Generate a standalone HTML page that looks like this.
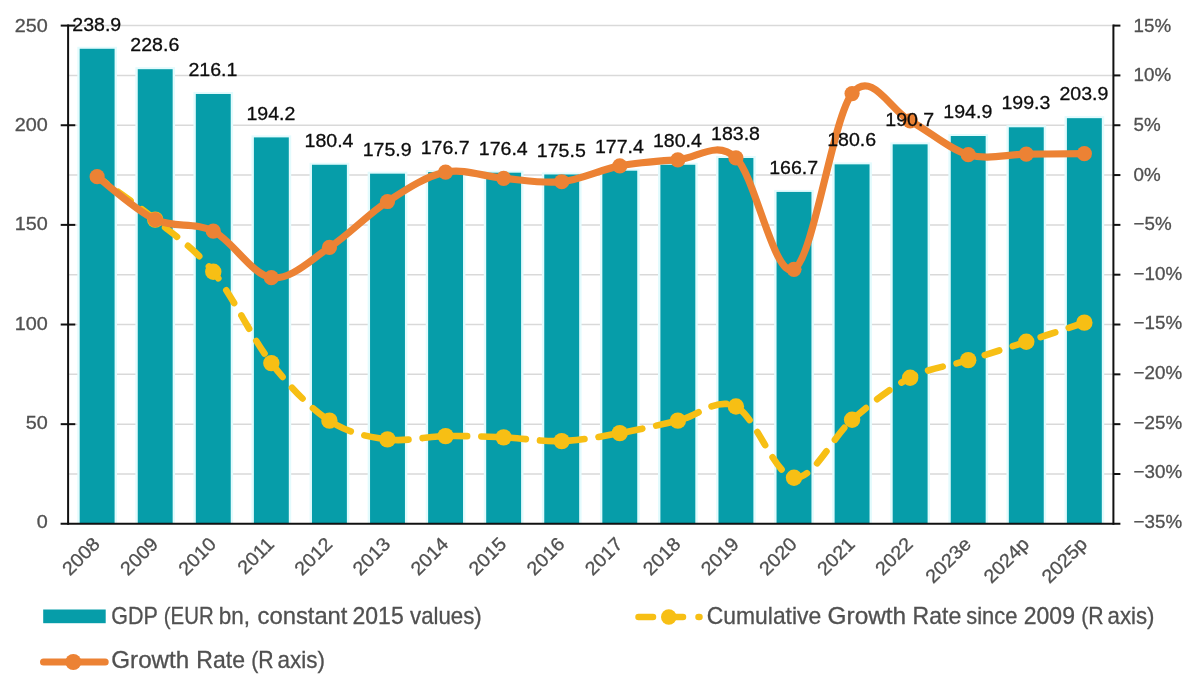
<!DOCTYPE html>
<html lang="en"><head><meta charset="utf-8"><title>GDP chart</title>
<style>html,body{margin:0;padding:0;background:#fff}body{width:1200px;height:685px;overflow:hidden}svg{display:block;filter:blur(0.45px)}</style></head>
<body>
<svg width="1200" height="685" viewBox="0 0 1200 685" font-family='"Liberation Sans", Arial, sans-serif'>
<rect width="1200" height="685" fill="#fff"/>
<line x1="68.1" x2="1113.4" y1="25.60" y2="25.60" stroke="#d9d9d9" stroke-width="1.5"/>
<line x1="68.1" x2="1113.4" y1="75.42" y2="75.42" stroke="#d9d9d9" stroke-width="1.5"/>
<line x1="68.1" x2="1113.4" y1="125.24" y2="125.24" stroke="#d9d9d9" stroke-width="1.5"/>
<line x1="68.1" x2="1113.4" y1="175.06" y2="175.06" stroke="#d9d9d9" stroke-width="1.5"/>
<line x1="68.1" x2="1113.4" y1="224.88" y2="224.88" stroke="#d9d9d9" stroke-width="1.5"/>
<line x1="68.1" x2="1113.4" y1="274.70" y2="274.70" stroke="#d9d9d9" stroke-width="1.5"/>
<line x1="68.1" x2="1113.4" y1="324.52" y2="324.52" stroke="#d9d9d9" stroke-width="1.5"/>
<line x1="68.1" x2="1113.4" y1="374.34" y2="374.34" stroke="#d9d9d9" stroke-width="1.5"/>
<line x1="68.1" x2="1113.4" y1="424.16" y2="424.16" stroke="#d9d9d9" stroke-width="1.5"/>
<line x1="68.1" x2="1113.4" y1="473.98" y2="473.98" stroke="#d9d9d9" stroke-width="1.5"/>
<rect x="77.29" y="46.78" width="39.70" height="477.02" fill="#e3fbfd"/>
<rect x="79.69" y="48.78" width="34.9" height="475.02" fill="#069da9"/>
<rect x="135.36" y="67.20" width="39.70" height="456.60" fill="#e3fbfd"/>
<rect x="137.76" y="69.20" width="34.9" height="454.60" fill="#069da9"/>
<rect x="193.43" y="91.98" width="39.70" height="431.82" fill="#e3fbfd"/>
<rect x="195.83" y="93.98" width="34.9" height="429.82" fill="#069da9"/>
<rect x="251.50" y="135.40" width="39.70" height="388.40" fill="#e3fbfd"/>
<rect x="253.90" y="137.40" width="34.9" height="386.40" fill="#069da9"/>
<rect x="309.58" y="162.76" width="39.70" height="361.04" fill="#e3fbfd"/>
<rect x="311.98" y="164.76" width="34.9" height="359.04" fill="#069da9"/>
<rect x="367.65" y="171.68" width="39.70" height="352.12" fill="#e3fbfd"/>
<rect x="370.05" y="173.68" width="34.9" height="350.12" fill="#069da9"/>
<rect x="425.72" y="170.09" width="39.70" height="353.71" fill="#e3fbfd"/>
<rect x="428.12" y="172.09" width="34.9" height="351.71" fill="#069da9"/>
<rect x="483.79" y="170.69" width="39.70" height="353.11" fill="#e3fbfd"/>
<rect x="486.19" y="172.69" width="34.9" height="351.11" fill="#069da9"/>
<rect x="541.86" y="172.47" width="39.70" height="351.33" fill="#e3fbfd"/>
<rect x="544.26" y="174.47" width="34.9" height="349.33" fill="#069da9"/>
<rect x="599.94" y="168.70" width="39.70" height="355.10" fill="#e3fbfd"/>
<rect x="602.34" y="170.70" width="34.9" height="353.10" fill="#069da9"/>
<rect x="658.01" y="162.76" width="39.70" height="361.04" fill="#e3fbfd"/>
<rect x="660.41" y="164.76" width="34.9" height="359.04" fill="#069da9"/>
<rect x="716.08" y="156.02" width="39.70" height="367.78" fill="#e3fbfd"/>
<rect x="718.48" y="158.02" width="34.9" height="365.78" fill="#069da9"/>
<rect x="774.15" y="189.92" width="39.70" height="333.88" fill="#e3fbfd"/>
<rect x="776.55" y="191.92" width="34.9" height="331.88" fill="#069da9"/>
<rect x="832.23" y="162.36" width="39.70" height="361.44" fill="#e3fbfd"/>
<rect x="834.63" y="164.36" width="34.9" height="359.44" fill="#069da9"/>
<rect x="890.30" y="142.34" width="39.70" height="381.46" fill="#e3fbfd"/>
<rect x="892.70" y="144.34" width="34.9" height="379.46" fill="#069da9"/>
<rect x="948.37" y="134.01" width="39.70" height="389.79" fill="#e3fbfd"/>
<rect x="950.77" y="136.01" width="34.9" height="387.79" fill="#069da9"/>
<rect x="1006.44" y="125.29" width="39.70" height="398.51" fill="#e3fbfd"/>
<rect x="1008.84" y="127.29" width="34.9" height="396.51" fill="#069da9"/>
<rect x="1064.51" y="116.17" width="39.70" height="407.63" fill="#e3fbfd"/>
<rect x="1066.91" y="118.17" width="34.9" height="405.63" fill="#069da9"/>
<g stroke="#111" stroke-width="2" fill="none">
<line x1="68.1" x2="68.1" y1="24.6" y2="524.8"/>
<line x1="1113.4" x2="1113.4" y1="24.6" y2="524.8"/>
<line x1="60.599999999999994" x2="1120.4" y1="523.8" y2="523.8"/>
<line x1="60.699999999999996" x2="75.3" y1="25.60" y2="25.60"/>
<line x1="60.699999999999996" x2="75.3" y1="125.24" y2="125.24"/>
<line x1="60.699999999999996" x2="75.3" y1="224.88" y2="224.88"/>
<line x1="60.699999999999996" x2="75.3" y1="324.52" y2="324.52"/>
<line x1="60.699999999999996" x2="75.3" y1="424.16" y2="424.16"/>
<line x1="1113.4" x2="1120.4" y1="25.60" y2="25.60"/>
<line x1="1113.4" x2="1120.4" y1="75.42" y2="75.42"/>
<line x1="1113.4" x2="1120.4" y1="125.24" y2="125.24"/>
<line x1="1113.4" x2="1120.4" y1="175.06" y2="175.06"/>
<line x1="1113.4" x2="1120.4" y1="224.88" y2="224.88"/>
<line x1="1113.4" x2="1120.4" y1="274.70" y2="274.70"/>
<line x1="1113.4" x2="1120.4" y1="324.52" y2="324.52"/>
<line x1="1113.4" x2="1120.4" y1="374.34" y2="374.34"/>
<line x1="1113.4" x2="1120.4" y1="424.16" y2="424.16"/>
<line x1="1113.4" x2="1120.4" y1="473.98" y2="473.98"/>
</g>
<path d="M97.14,176.66 C106.81,183.82 135.85,203.77 155.21,219.62 C174.57,235.47 193.92,247.84 213.28,271.75 C232.64,295.67 252.00,338.28 271.35,363.09 C290.71,387.91 310.07,407.93 329.43,420.65 C348.78,433.37 368.14,436.85 387.50,439.42 C406.85,441.99 426.21,436.43 445.57,436.08 C464.93,435.74 484.28,436.50 503.64,437.33 C523.00,438.17 542.36,441.78 561.71,441.09 C581.07,440.39 600.43,436.57 619.79,433.16 C639.14,429.76 658.50,425.10 677.86,420.65 C697.22,416.20 716.57,396.95 735.93,406.47 C755.29,415.99 774.65,475.57 794.00,477.79 C813.36,480.01 832.72,436.50 852.08,419.82 C871.43,403.13 890.79,387.63 910.15,377.69 C929.50,367.75 948.86,366.15 968.22,360.17 C987.58,354.20 1006.93,348.08 1026.29,341.82 C1045.65,335.57 1074.69,325.83 1084.36,322.64" fill="none" stroke="#f7bf14" stroke-width="6.6" stroke-linecap="round" stroke-dasharray="15.2 14.2" stroke-dashoffset="3.3"/>
<circle cx="155.21" cy="219.62" r="8.2" fill="#f7bf14"/>
<circle cx="213.28" cy="271.75" r="8.2" fill="#f7bf14"/>
<circle cx="271.35" cy="363.09" r="8.2" fill="#f7bf14"/>
<circle cx="329.43" cy="420.65" r="8.2" fill="#f7bf14"/>
<circle cx="387.50" cy="439.42" r="8.2" fill="#f7bf14"/>
<circle cx="445.57" cy="436.08" r="8.2" fill="#f7bf14"/>
<circle cx="503.64" cy="437.33" r="8.2" fill="#f7bf14"/>
<circle cx="561.71" cy="441.09" r="8.2" fill="#f7bf14"/>
<circle cx="619.79" cy="433.16" r="8.2" fill="#f7bf14"/>
<circle cx="677.86" cy="420.65" r="8.2" fill="#f7bf14"/>
<circle cx="735.93" cy="406.47" r="8.2" fill="#f7bf14"/>
<circle cx="794.00" cy="477.79" r="8.2" fill="#f7bf14"/>
<circle cx="852.08" cy="419.82" r="8.2" fill="#f7bf14"/>
<circle cx="910.15" cy="377.69" r="8.2" fill="#f7bf14"/>
<circle cx="968.22" cy="360.17" r="8.2" fill="#f7bf14"/>
<circle cx="1026.29" cy="341.82" r="8.2" fill="#f7bf14"/>
<circle cx="1084.36" cy="322.64" r="8.2" fill="#f7bf14"/>
<path d="M97.14,176.66 C106.81,183.82 135.85,210.54 155.21,219.62 C174.57,228.70 193.92,221.47 213.28,231.14 C232.64,240.81 252.00,274.92 271.35,277.64 C290.71,280.36 310.07,260.15 329.43,247.46 C348.78,234.78 368.14,214.07 387.50,201.51 C406.85,188.96 426.21,175.99 445.57,172.13 C464.93,168.27 484.28,176.75 503.64,178.35 C523.00,179.95 542.36,183.82 561.71,181.74 C581.07,179.66 600.43,169.53 619.79,165.87 C639.14,162.22 658.50,161.14 677.86,159.81 C697.22,158.48 716.57,139.62 735.93,157.88 C755.29,176.14 774.65,280.08 794.00,269.36 C813.36,258.64 832.72,118.31 852.08,93.58 C871.43,68.84 890.79,110.75 910.15,120.94 C929.50,131.13 948.86,149.18 968.22,154.72 C987.58,160.25 1006.93,154.34 1026.29,154.17 C1045.65,153.99 1074.69,153.75 1084.36,153.66" fill="none" stroke="#ec8234" stroke-width="7.2" stroke-linecap="round" stroke-linejoin="round"/>
<circle cx="97.14" cy="176.66" r="7.6" fill="#ec8234"/>
<circle cx="155.21" cy="219.62" r="7.6" fill="#ec8234"/>
<circle cx="213.28" cy="231.14" r="7.6" fill="#ec8234"/>
<circle cx="271.35" cy="277.64" r="7.6" fill="#ec8234"/>
<circle cx="329.43" cy="247.46" r="7.6" fill="#ec8234"/>
<circle cx="387.50" cy="201.51" r="7.6" fill="#ec8234"/>
<circle cx="445.57" cy="172.13" r="7.6" fill="#ec8234"/>
<circle cx="503.64" cy="178.35" r="7.6" fill="#ec8234"/>
<circle cx="561.71" cy="181.74" r="7.6" fill="#ec8234"/>
<circle cx="619.79" cy="165.87" r="7.6" fill="#ec8234"/>
<circle cx="677.86" cy="159.81" r="7.6" fill="#ec8234"/>
<circle cx="735.93" cy="157.88" r="7.6" fill="#ec8234"/>
<circle cx="794.00" cy="269.36" r="7.6" fill="#ec8234"/>
<circle cx="852.08" cy="93.58" r="7.6" fill="#ec8234"/>
<circle cx="910.15" cy="120.94" r="7.6" fill="#ec8234"/>
<circle cx="968.22" cy="154.72" r="7.6" fill="#ec8234"/>
<circle cx="1026.29" cy="154.17" r="7.6" fill="#ec8234"/>
<circle cx="1084.36" cy="153.66" r="7.6" fill="#ec8234"/>
<g font-size="18.8" fill="#0d0d0d" stroke="#0d0d0d" stroke-width="0.3" text-anchor="middle">
<text transform="translate(96.74,30.88) scale(1.041,1)">238.9</text>
<text transform="translate(154.81,51.30) scale(1.041,1)">228.6</text>
<text transform="translate(212.88,76.08) scale(1.041,1)">216.1</text>
<text transform="translate(270.95,119.50) scale(1.041,1)">194.2</text>
<text transform="translate(329.03,146.86) scale(1.041,1)">180.4</text>
<text transform="translate(387.10,155.78) scale(1.041,1)">175.9</text>
<text transform="translate(445.17,154.19) scale(1.041,1)">176.7</text>
<text transform="translate(503.24,154.79) scale(1.041,1)">176.4</text>
<text transform="translate(561.31,156.57) scale(1.041,1)">175.5</text>
<text transform="translate(619.39,152.80) scale(1.041,1)">177.4</text>
<text transform="translate(677.46,146.86) scale(1.041,1)">180.4</text>
<text transform="translate(735.53,140.12) scale(1.041,1)">183.8</text>
<text transform="translate(793.60,174.02) scale(1.041,1)">166.7</text>
<text transform="translate(851.68,146.46) scale(1.041,1)">180.6</text>
<text transform="translate(909.75,126.44) scale(1.041,1)">190.7</text>
<text transform="translate(967.82,118.11) scale(1.041,1)">194.9</text>
<text transform="translate(1025.89,109.39) scale(1.041,1)">199.3</text>
<text transform="translate(1083.96,100.27) scale(1.041,1)">203.9</text>
</g>
<g font-size="18.5" fill="#505050" stroke="#505050" stroke-width="0.3" text-anchor="end">
<text transform="translate(47.8,31.90) scale(1.07,1)">250</text>
<text transform="translate(47.8,131.10) scale(1.07,1)">200</text>
<text transform="translate(47.8,230.30) scale(1.07,1)">150</text>
<text transform="translate(47.8,329.50) scale(1.07,1)">100</text>
<text transform="translate(47.8,428.70) scale(1.07,1)">50</text>
<text transform="translate(47.8,527.90) scale(1.07,1)">0</text>
</g>
<g font-size="18.5" fill="#505050" stroke="#505050" stroke-width="0.3" text-anchor="start">
<text transform="translate(1133.6,31.80) scale(1.015,1)">15%</text>
<text transform="translate(1133.6,81.40) scale(1.015,1)">10%</text>
<text transform="translate(1133.6,131.00) scale(1.015,1)">5%</text>
<text transform="translate(1133.6,180.60) scale(1.015,1)">0%</text>
<text transform="translate(1133.6,230.20) scale(1.015,1)">−5%</text>
<text transform="translate(1133.6,279.80) scale(1.015,1)">−10%</text>
<text transform="translate(1133.6,329.40) scale(1.015,1)">−15%</text>
<text transform="translate(1133.6,379.00) scale(1.015,1)">−20%</text>
<text transform="translate(1133.6,428.60) scale(1.015,1)">−25%</text>
<text transform="translate(1133.6,478.20) scale(1.015,1)">−30%</text>
<text transform="translate(1133.6,527.80) scale(1.015,1)">−35%</text>
</g>
<g font-size="18.5" fill="#505050" stroke="#505050" stroke-width="0.3" text-anchor="end">
<text transform="translate(101.14,545.30) rotate(-45) scale(1.07,1.03)">2008</text>
<text transform="translate(159.21,545.30) rotate(-45) scale(1.07,1.03)">2009</text>
<text transform="translate(217.28,545.30) rotate(-45) scale(1.07,1.03)">2010</text>
<text transform="translate(275.35,545.30) rotate(-45) scale(1.07,1.03)">2011</text>
<text transform="translate(333.43,545.30) rotate(-45) scale(1.07,1.03)">2012</text>
<text transform="translate(391.50,545.30) rotate(-45) scale(1.07,1.03)">2013</text>
<text transform="translate(449.57,545.30) rotate(-45) scale(1.07,1.03)">2014</text>
<text transform="translate(507.64,545.30) rotate(-45) scale(1.07,1.03)">2015</text>
<text transform="translate(565.71,545.30) rotate(-45) scale(1.07,1.03)">2016</text>
<text transform="translate(623.79,545.30) rotate(-45) scale(1.07,1.03)">2017</text>
<text transform="translate(681.86,545.30) rotate(-45) scale(1.07,1.03)">2018</text>
<text transform="translate(739.93,545.30) rotate(-45) scale(1.07,1.03)">2019</text>
<text transform="translate(798.00,545.30) rotate(-45) scale(1.07,1.03)">2020</text>
<text transform="translate(856.08,545.30) rotate(-45) scale(1.07,1.03)">2021</text>
<text transform="translate(914.15,545.30) rotate(-45) scale(1.07,1.03)">2022</text>
<text transform="translate(972.22,545.30) rotate(-45) scale(1.07,1.03)">2023e</text>
<text transform="translate(1030.29,545.30) rotate(-45) scale(1.07,1.03)">2024p</text>
<text transform="translate(1088.36,545.30) rotate(-45) scale(1.07,1.03)">2025p</text>
</g>
<rect x="43.2" y="609.5" width="62.5" height="13.7" fill="#069da9"/>
<g font-size="23.2" fill="#505050" stroke="#505050" stroke-width="0.3">
<text y="623.8"><tspan x="111.30" textLength="46.15" lengthAdjust="spacingAndGlyphs">GDP</tspan> <tspan x="163.80" textLength="49.90" lengthAdjust="spacingAndGlyphs">(EUR</tspan> <tspan x="218.80" textLength="31.15" lengthAdjust="spacingAndGlyphs">bn,</tspan> <tspan x="257.55" textLength="89.90" lengthAdjust="spacingAndGlyphs">constant</tspan> <tspan x="352.55" textLength="51.15" lengthAdjust="spacingAndGlyphs">2015</tspan> <tspan x="410.05" textLength="71.65" lengthAdjust="spacingAndGlyphs">values)</tspan></text>
<text y="623.8"><tspan x="706.80" textLength="114.40" lengthAdjust="spacingAndGlyphs">Cumulative</tspan> <tspan x="827.55" textLength="78.65" lengthAdjust="spacingAndGlyphs">Growth</tspan> <tspan x="912.55" textLength="48.65" lengthAdjust="spacingAndGlyphs">Rate</tspan> <tspan x="966.30" textLength="51.15" lengthAdjust="spacingAndGlyphs">since</tspan> <tspan x="1023.80" textLength="51.15" lengthAdjust="spacingAndGlyphs">2009</tspan> <tspan x="1081.30" textLength="22.40" lengthAdjust="spacingAndGlyphs">(R</tspan> <tspan x="1107.55" textLength="46.90" lengthAdjust="spacingAndGlyphs">axis)</tspan></text>
<text y="668"><tspan x="111.30" textLength="77.90" lengthAdjust="spacingAndGlyphs">Growth</tspan> <tspan x="196.30" textLength="48.65" lengthAdjust="spacingAndGlyphs">Rate</tspan> <tspan x="251.30" textLength="22.40" lengthAdjust="spacingAndGlyphs">(R</tspan> <tspan x="277.55" textLength="47.40" lengthAdjust="spacingAndGlyphs">axis)</tspan></text>
</g>
<line x1="43.5" x2="105.2" y1="662" y2="662" stroke="#ec8234" stroke-width="7" stroke-linecap="round"/>
<circle cx="73.3" cy="662" r="8" fill="#ec8234"/>
<line x1="638.5" x2="699.5" y1="617" y2="617" stroke="#f7bf14" stroke-width="6.5" stroke-linecap="round" stroke-dasharray="14.5 15.5"/>
<circle cx="668.8" cy="617" r="7.8" fill="#f7bf14"/>
</svg>
</body></html>
